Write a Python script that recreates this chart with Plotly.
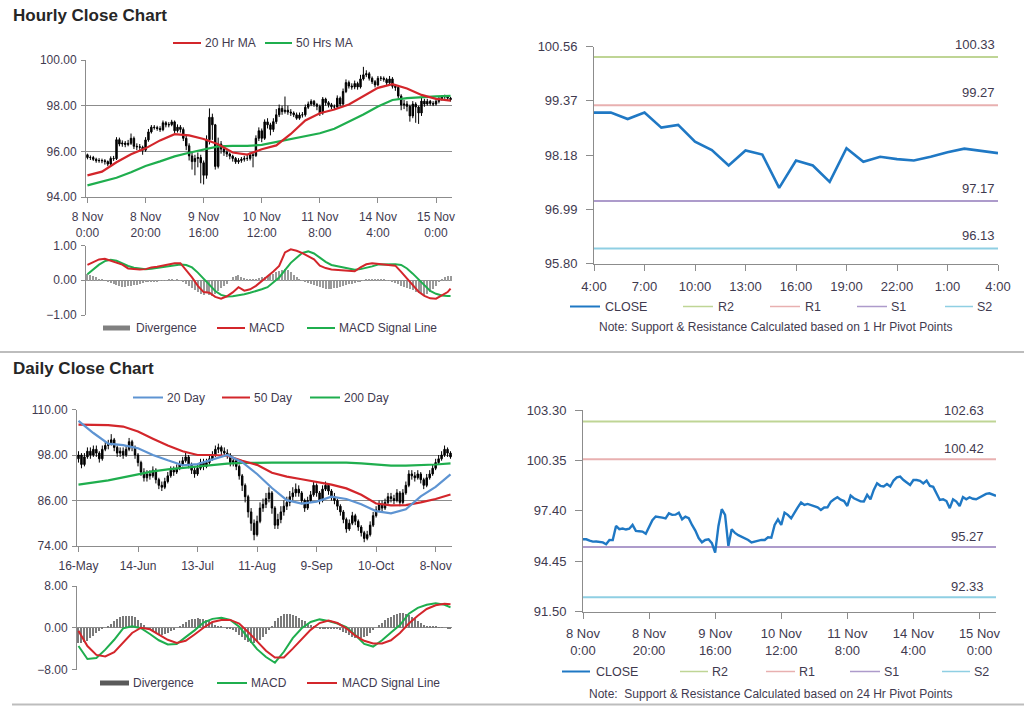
import plotly.graph_objects as go

# ------------------------------------------------------------------ data
hourly_tick_labels = ["8 Nov<br>0:00", "8 Nov<br>20:00", "9 Nov<br>16:00", "10 Nov<br>12:00",
                      "11 Nov<br>8:00", "14 Nov<br>4:00", "15 Nov<br>0:00"]
daily_tick_labels = ["16-May", "14-Jun", "13-Jul", "11-Aug", "9-Sep", "10-Oct", "8-Nov"]
pivot_hour_labels = ["4:00", "5:00", "6:00", "7:00", "8:00", "9:00", "10:00", "11:00", "12:00",
                     "13:00", "14:00", "15:00", "16:00", "17:00", "18:00", "19:00", "20:00",
                     "21:00", "22:00", "23:00", "0:00", "1:00", "2:00", "3:00", "4:00"]

hourly_open = [95.85, 95.73, 95.73, 95.65, 95.59, 95.60, 95.59, 95.55, 95.44, 95.69,
               95.68, 96.51, 96.32, 96.36, 96.30, 96.35, 96.57, 96.22, 96.20, 96.18,
               96.05, 96.50, 96.85, 97.06, 97.04, 97.00, 96.95, 97.25, 97.16, 97.17,
               97.29, 96.90, 97.06, 96.96, 96.57, 96.24, 95.80, 95.55, 95.69, 95.73,
               95.50, 94.95, 96.51, 97.49, 97.16, 95.34, 96.32, 96.10, 95.97, 95.88,
               95.79, 95.69, 95.54, 95.60, 95.65, 95.69, 95.69, 95.85, 95.82, 96.57,
               96.90, 96.57, 97.29, 97.16, 96.96, 97.30, 97.60, 97.88, 97.74, 97.80,
               97.72, 97.68, 97.60, 97.45, 97.59, 97.60, 97.93, 98.07, 98.19, 98.05,
               97.97, 97.68, 98.29, 98.13, 98.04, 97.95, 97.94, 98.33, 98.07, 98.62,
               99.01, 98.86, 98.82, 98.97, 98.82, 99.17, 99.35, 99.40, 99.20, 99.05,
               98.91, 99.20, 99.20, 99.15, 99.00, 99.17, 98.85, 98.80, 98.42, 98.03,
               98.07, 97.97, 97.55, 98.07, 97.94, 97.68, 98.20, 98.07, 98.19, 98.10,
               98.07, 98.19, 98.30, 98.39, 98.42, 98.33]
hourly_high = [95.90, 95.82, 95.80, 95.72, 95.70, 95.68, 95.66, 95.60, 95.78, 95.80,
               96.62, 96.60, 96.48, 96.45, 96.50, 96.78, 96.65, 96.35, 96.32, 96.25,
               96.62, 96.98, 97.15, 97.15, 97.12, 97.10, 97.35, 97.32, 97.28, 97.38,
               97.35, 97.18, 97.15, 97.05, 96.70, 96.35, 95.95, 95.85, 95.95, 95.85,
               95.60, 96.70, 97.88, 97.65, 97.20, 96.60, 96.45, 96.20, 96.05, 95.95,
               95.85, 95.75, 95.70, 95.75, 95.80, 95.85, 95.95, 95.95, 96.70, 97.05,
               97.00, 97.40, 97.45, 97.25, 97.45, 97.85, 98.05, 98.00, 98.40, 98.00,
               97.85, 97.75, 97.70, 97.70, 97.72, 98.05, 98.18, 98.28, 98.25, 98.12,
               98.05, 98.38, 98.35, 98.20, 98.12, 98.05, 98.45, 98.40, 98.75, 99.15,
               99.10, 98.98, 99.10, 99.05, 99.35, 99.70, 99.55, 99.48, 99.28, 99.12,
               99.30, 99.30, 99.28, 99.22, 99.30, 99.25, 98.95, 98.90, 98.50, 98.25,
               98.20, 98.05, 98.20, 98.15, 98.00, 98.35, 98.30, 98.30, 98.25, 98.20,
               98.28, 98.38, 98.45, 98.48, 98.45, 98.38]
hourly_low = [95.65, 95.62, 95.58, 95.50, 95.50, 95.48, 95.42, 95.35, 95.40, 95.58,
              95.62, 96.22, 96.20, 96.18, 96.22, 96.28, 96.10, 96.05, 96.00, 95.85,
              95.98, 96.42, 96.78, 96.95, 96.90, 96.85, 96.88, 97.05, 97.05, 97.10,
              96.80, 96.82, 96.82, 96.45, 96.05, 95.60, 95.20, 94.95, 95.30, 94.60,
              94.55, 94.80, 96.30, 96.50, 95.20, 95.25, 95.90, 95.80, 95.75, 95.65,
              95.55, 95.45, 95.45, 95.50, 95.55, 95.58, 95.60, 95.30, 95.75, 96.45,
              96.40, 96.50, 97.00, 96.70, 96.85, 97.20, 97.50, 97.60, 97.65, 97.60,
              97.55, 97.50, 97.38, 97.38, 97.48, 97.52, 97.85, 97.98, 97.95, 97.80,
              97.55, 97.60, 98.00, 97.92, 97.85, 97.82, 97.88, 97.95, 98.00, 98.55,
              98.75, 98.70, 98.72, 98.70, 98.75, 99.10, 99.25, 99.10, 98.95, 98.80,
              98.85, 99.08, 99.05, 98.90, 98.92, 98.75, 98.65, 98.30, 97.80, 97.85,
              97.75, 97.30, 97.45, 97.25, 97.20, 97.55, 97.95, 98.00, 98.00, 97.98,
              98.00, 98.10, 98.22, 98.30, 98.25, 98.18]
hourly_close = [95.73, 95.73, 95.65, 95.59, 95.60, 95.59, 95.55, 95.44, 95.69, 95.68,
                96.51, 96.32, 96.36, 96.30, 96.35, 96.57, 96.22, 96.20, 96.18, 96.05,
                96.50, 96.85, 97.06, 97.04, 97.00, 96.95, 97.25, 97.16, 97.17, 97.29,
                96.90, 97.06, 96.96, 96.57, 96.24, 95.80, 95.55, 95.69, 95.73, 95.50,
                94.95, 96.51, 97.49, 97.16, 95.34, 96.32, 96.10, 95.97, 95.88, 95.79,
                95.69, 95.54, 95.60, 95.65, 95.69, 95.69, 95.85, 95.82, 96.57, 96.90,
                96.57, 97.29, 97.16, 96.96, 97.30, 97.60, 97.88, 97.74, 97.80, 97.72,
                97.68, 97.60, 97.45, 97.59, 97.60, 97.93, 98.07, 98.19, 98.05, 97.97,
                97.68, 98.29, 98.13, 98.04, 97.95, 97.94, 98.33, 98.07, 98.62, 99.01,
                98.86, 98.82, 98.97, 98.82, 99.17, 99.35, 99.40, 99.20, 99.05, 98.91,
                99.20, 99.20, 99.15, 99.00, 99.17, 98.85, 98.80, 98.42, 98.03, 98.07,
                97.97, 97.55, 98.07, 97.94, 97.68, 98.20, 98.07, 98.19, 98.10, 98.07,
                98.19, 98.30, 98.39, 98.42, 98.33, 98.27]

# moving averages, read every 5 hours
hourly_ma_idx = [0, 5, 10, 15, 20, 25, 30, 35, 40, 45, 50, 55, 60, 65, 70, 75, 80, 85, 90,
                 95, 100, 105, 110, 115, 120, 125]
hourly_ma20 = [94.95, 95.11, 95.52, 95.87, 96.13, 96.48, 96.75, 96.70, 96.54, 96.31, 95.95,
               95.86, 96.09, 96.26, 96.76, 97.35, 97.67, 97.83, 98.05, 98.42, 98.78, 98.94,
               98.75, 98.47, 98.30, 98.22]
hourly_ma50 = [94.51, 94.66, 94.84, 95.08, 95.36, 95.56, 95.78, 95.94, 96.07, 96.22, 96.24,
               96.24, 96.28, 96.41, 96.56, 96.67, 96.79, 96.99, 97.29, 97.61, 97.96, 98.25,
               98.33, 98.38, 98.41, 98.43]

# hourly MACD, read every 2 hours
hourly_macd_idx = [0, 2, 4, 6, 8, 10, 12, 14, 16, 18, 20, 22, 24, 26, 28, 30, 32, 34, 36, 38,
                   40, 42, 44, 46, 48, 50, 52, 54, 56, 58, 60, 62, 64, 66, 68, 70, 72, 74, 76,
                   78, 80, 82, 84, 86, 88, 90, 92, 94, 96, 98, 100, 102, 104, 106, 108, 110,
                   112, 114, 116, 118, 120, 122, 124, 125]
hourly_macd = [0.44, 0.53, 0.60, 0.62, 0.57, 0.52, 0.45, 0.34, 0.32, 0.31, 0.32, 0.37, 0.39,
               0.42, 0.45, 0.49, 0.49, 0.30, 0.08, -0.16, -0.34, -0.36, -0.48, -0.53, -0.46,
               -0.35, -0.20, -0.30, -0.26, -0.16, -0.03, 0.11, 0.25, 0.41, 0.80, 0.89, 0.85,
               0.78, 0.70, 0.60, 0.42, 0.35, 0.31, 0.30, 0.30, 0.28, 0.26, 0.37, 0.46, 0.49,
               0.47, 0.44, 0.42, 0.42, 0.24, 0.04, -0.15, -0.33, -0.45, -0.52, -0.53, -0.43,
               -0.34, -0.24]
hourly_signal = [0.17, 0.31, 0.45, 0.55, 0.59, 0.56, 0.48, 0.41, 0.36, 0.34, 0.32, 0.33, 0.35,
                 0.38, 0.40, 0.42, 0.45, 0.44, 0.37, 0.22, 0.05, -0.15, -0.31, -0.42, -0.47,
                 -0.46, -0.44, -0.40, -0.36, -0.32, -0.26, -0.20, -0.07, 0.08, 0.29, 0.50,
                 0.65, 0.79, 0.83, 0.77, 0.65, 0.53, 0.44, 0.40, 0.37, 0.33, 0.30, 0.32, 0.35,
                 0.40, 0.45, 0.46, 0.46, 0.46, 0.44, 0.34, 0.19, 0.02, -0.16, -0.31, -0.39,
                 -0.44, -0.45, -0.45]
hourly_div = [0.20, 0.18, 0.15, 0.12,
              0.06, 0.03, 0.00, -0.03, -0.06,
              -0.10, -0.13, -0.16, -0.17, -0.18, -0.16, -0.15, -0.13,
              -0.11, -0.09, -0.07, -0.05, -0.04, -0.03,
              -0.02, -0.01, 0.01, 0.02, 0.02, 0.03, 0.03, 0.02, 0.03, 0.02, -0.02,
              -0.08, -0.15, -0.22, -0.28,
              -0.32, -0.38, -0.42, -0.35, -0.40, -0.44, -0.38, -0.30, -0.22,
              -0.15, -0.08, 0.02,
              0.10, 0.14, 0.16, 0.12, 0.08, 0.05,
              0.03, 0.05, 0.06, 0.08, 0.10, 0.12, 0.14,
              0.17, 0.20, 0.24, 0.27, 0.32, 0.35, 0.30, 0.26, 0.18, 0.12,
              0.06, 0.02, -0.03, -0.07, -0.10, -0.13, -0.16,
              -0.19, -0.22, -0.24, -0.25, -0.24, -0.22, -0.20, -0.18, -0.15, -0.12, -0.10,
              -0.08, -0.06, -0.04, -0.02, 0.02, 0.04, 0.05,
              0.06, 0.06, 0.05, 0.04, 0.03, 0.02, 0.01, -0.02, -0.06,
              -0.10, -0.14, -0.18, -0.22, -0.25,
              -0.28, -0.32, -0.35, -0.38, -0.40, -0.38, -0.33, -0.25, -0.15, -0.05,
              0.05, 0.10, 0.14, 0.15]

# 1 Hr pivot chart
pivot1_close = [99.11, 99.11, 98.97, 99.11, 98.78, 98.84, 98.47, 98.29, 97.95, 98.28, 98.19,
                97.46, 98.06, 97.95, 97.59, 98.33, 98.03, 98.14, 98.09, 98.06, 98.14, 98.24,
                98.32, 98.27, 98.22]
pivot1_levels = {"R2": 100.33, "R1": 99.27, "S1": 97.17, "S2": 96.13}
pivot1_ticks = [95.80, 96.99, 98.18, 99.37, 100.56]

# 24 Hr pivot chart
pivot24_levels = {"R2": 102.63, "R1": 100.42, "S1": 95.27, "S2": 92.33}
pivot24_ticks = [91.50, 94.45, 97.40, 100.35, 103.30]

# daily candles
daily_open = [97.0, 98.0, 95.5, 97.5, 99.0, 98.0, 99.5, 98.5, 97.0, 99.5,
              100.5, 101.0, 102.0, 100.0, 98.5, 99.0, 98.0, 99.5, 101.5, 100.0,
              98.0, 96.0, 93.5, 92.0, 93.0, 92.5, 94.0, 91.5, 90.0, 89.5,
              91.0, 92.5, 94.0, 93.5, 94.5, 95.5, 96.5, 97.5, 95.5, 94.0,
              93.0, 94.5, 96.0, 95.0, 96.0, 97.0, 98.0, 99.5, 100.0, 99.0,
              98.5, 98.0, 96.0, 96.5, 95.0, 92.5, 90.0, 87.0, 83.0, 80.0,
              77.0, 80.5, 84.0, 85.0, 86.5, 88.0, 84.0, 79.5, 81.0, 83.0,
              84.5, 85.5, 87.0, 88.0, 89.0, 88.0, 86.0, 84.0, 86.0, 87.5,
              90.0, 88.0, 86.0, 89.0, 90.0, 88.5, 87.0, 86.0, 84.5, 83.0,
              81.0, 78.5, 80.0, 82.0, 80.5, 79.0, 77.5, 76.0, 77.0, 79.5,
              82.0, 83.5, 85.0, 84.0, 85.5, 87.0, 86.5, 86.0, 88.0, 85.5,
              88.0, 90.0, 93.0, 92.5, 92.0, 93.0, 91.5, 90.0, 92.0, 93.0,
              94.5, 96.0, 97.0, 98.0, 99.5, 98.5]
daily_high = [99.0, 98.5, 98.5, 100.0, 100.0, 100.5, 100.5, 99.0, 100.5, 101.5,
              102.0, 103.5, 102.5, 100.5, 100.0, 100.0, 100.5, 102.5, 102.0, 100.5,
              98.5, 96.5, 94.5, 94.0, 94.0, 95.0, 94.5, 92.0, 91.0, 92.0,
              93.5, 95.0, 95.0, 95.5, 96.5, 97.5, 99.0, 98.0, 96.0, 95.0,
              95.5, 97.0, 97.0, 97.0, 98.0, 99.0, 100.5, 101.0, 100.5, 100.0,
              99.5, 98.5, 97.5, 97.0, 95.5, 93.0, 90.5, 87.5, 84.0, 81.0,
              82.0, 85.5, 86.5, 88.0, 89.5, 88.5, 84.5, 82.5, 84.5, 86.0,
              87.0, 88.5, 89.5, 90.5, 90.0, 88.5, 86.5, 87.0, 88.5, 91.0,
              90.5, 88.5, 90.0, 91.0, 90.5, 89.0, 88.0, 86.5, 85.0, 83.5,
              81.5, 81.0, 83.0, 82.5, 81.0, 79.5, 78.0, 78.0, 80.5, 83.0,
              84.5, 86.0, 86.0, 86.5, 88.0, 88.0, 87.5, 89.0, 88.5, 89.0,
              91.0, 94.0, 94.0, 93.5, 94.0, 93.5, 92.0, 93.0, 94.0, 95.5,
              97.0, 98.0, 99.0, 100.5, 100.0, 99.0]
daily_low = [96.0, 94.5, 95.0, 97.0, 97.0, 97.5, 97.5, 96.0, 96.5, 99.0,
             99.5, 100.5, 99.0, 97.5, 97.5, 97.0, 97.5, 99.0, 99.0, 97.0,
             95.0, 92.5, 91.0, 91.0, 91.5, 92.0, 90.5, 89.0, 88.5, 89.0,
             90.5, 92.0, 92.5, 93.0, 94.0, 95.0, 96.0, 94.5, 93.0, 92.0,
             92.5, 94.0, 94.0, 94.5, 95.5, 96.5, 97.5, 98.5, 98.0, 97.5,
             97.0, 95.0, 95.0, 94.0, 91.5, 88.5, 85.5, 81.5, 78.0, 75.5,
             76.5, 80.0, 83.0, 84.0, 85.5, 82.5, 78.5, 78.5, 80.0, 82.0,
             83.5, 84.5, 86.0, 87.0, 87.0, 85.0, 83.0, 83.5, 85.5, 87.0,
             87.0, 85.0, 85.5, 88.5, 87.5, 86.0, 85.0, 83.5, 82.0, 80.0,
             77.5, 78.0, 79.5, 79.5, 78.0, 76.5, 75.0, 75.5, 76.5, 79.0,
             81.5, 83.0, 83.0, 83.5, 85.0, 85.5, 85.0, 85.5, 84.5, 85.0,
             87.5, 89.5, 91.5, 91.0, 91.5, 90.5, 89.0, 89.5, 91.5, 92.5,
             94.0, 95.5, 96.5, 97.5, 97.5, 97.0]
daily_close = [98.0, 95.5, 97.5, 99.0, 98.0, 99.5, 98.5, 97.0, 99.5, 100.5,
               101.0, 102.0, 100.0, 98.5, 99.0, 98.0, 99.5, 101.5, 100.0, 98.0,
               96.0, 93.5, 92.0, 93.0, 92.5, 94.0, 91.5, 90.0, 89.5, 91.0,
               92.5, 94.0, 93.5, 94.5, 95.5, 96.5, 97.5, 95.5, 94.0, 93.0,
               94.5, 96.0, 95.0, 96.0, 97.0, 98.0, 99.5, 100.0, 99.0, 98.5,
               98.0, 96.0, 96.5, 95.0, 92.5, 90.0, 87.0, 83.0, 80.0, 77.0,
               80.5, 84.0, 85.0, 86.5, 88.0, 84.0, 79.5, 81.0, 83.0, 84.5,
               85.5, 87.0, 88.0, 89.0, 88.0, 86.0, 84.0, 86.0, 87.5, 90.0,
               88.0, 86.0, 89.0, 90.0, 88.5, 87.0, 86.0, 84.5, 83.0, 81.0,
               78.5, 80.0, 82.0, 80.5, 79.0, 77.5, 76.0, 77.0, 79.5, 82.0,
               83.5, 85.0, 84.0, 85.5, 87.0, 86.5, 86.0, 88.0, 85.5, 88.0,
               90.0, 93.0, 92.5, 92.0, 93.0, 91.5, 90.0, 92.0, 93.0, 94.5,
               96.0, 97.0, 98.0, 99.5, 98.5, 97.5]

# daily moving averages, read every 5 days
daily_ma_idx = [0, 5, 10, 15, 20, 25, 30, 35, 40, 45, 50, 55, 60, 65, 70, 75, 80, 85, 90, 95,
                100, 105, 110, 115, 120, 125]
daily_ma20 = [107.0, 103.8, 101.0, 100.6, 99.8, 98.0, 96.6, 95.3, 95.6, 96.9, 98.0, 96.1, 93.0,
              89.3, 86.1, 85.2, 85.7, 87.0, 86.4, 85.0, 83.2, 82.6, 83.7, 87.1, 89.6, 92.9]
daily_ma50 = [106.0, 105.9, 105.9, 105.5, 104.2, 102.3, 100.5, 99.0, 98.0, 98.0, 97.8, 96.5,
              95.4, 93.3, 92.3, 91.6, 90.9, 90.2, 89.2, 87.5, 85.2, 84.7, 84.8, 85.5, 86.4, 87.6]
daily_ma200 = [90.2, 90.7, 91.3, 92.1, 92.9, 93.7, 94.2, 94.6, 95.0, 95.4, 95.7, 95.9, 96.0,
               96.0, 96.0, 96.0, 96.0, 96.0, 96.0, 95.8, 95.5, 95.2, 95.2, 95.3, 95.5, 95.8]

# daily MACD, read every 3 days
daily_macd_idx = [0, 3, 6, 9, 12, 15, 18, 21, 24, 27, 30, 33, 36, 39, 42, 45, 48, 51, 54, 57,
                  60, 63, 66, 69, 72, 75, 78, 81, 84, 87, 90, 93, 96, 99, 102, 105, 108, 111,
                  114, 117, 120, 123, 125]
daily_macd = [-3.5, -6.0, -5.8, -4.2, -2.3, -0.1, 0.3, -0.1, -1.2, -2.4, -3.2, -3.1, -1.8,
              -0.5, 1.0, 1.7, 1.9, 1.5, 0.2, -2.0, -4.1, -5.6, -6.7, -4.6, -2.0, -0.1, 1.1,
              1.6, 1.3, 0.8, 0.1, -1.4, -3.1, -3.6, -2.4, -0.9, 0.5, 2.7, 3.8, 4.4, 4.7, 4.4,
              3.9]
daily_signal = [-0.6, -3.5, -5.2, -5.5, -4.7, -2.8, -1.0, 0.0, -0.3, -1.3, -2.3, -2.9, -2.5,
                -1.3, 0.0, 1.1, 1.5, 1.5, 0.8, -0.8, -2.7, -4.4, -5.7, -5.7, -4.0, -2.2, -0.4,
                0.9, 1.4, 0.9, -0.1, -1.5, -2.5, -3.0, -3.0, -2.4, -1.0, 0.8, 2.3, 3.6, 4.3,
                4.6, 4.5]
daily_div = [-2.9, -3.0, -2.8, -2.5, -2.0, -1.5,
             -1.0, -0.6, -0.3, 0.0, 0.3,
             0.7, 1.2, 1.6, 2.0,
             2.2, 2.3, 2.3, 2.2, 2.0,
             1.5, 1.0, 0.5, 0.0,
             -0.4, -0.7, -1.0, -1.2, -1.3, -1.2, -1.0, -0.7, -0.4,
             0.0, 0.4, 0.8, 1.1,
             1.4, 1.6, 1.7, 1.8, 1.7, 1.6, 1.4, 1.2,
             0.9, 0.6, 0.4, 0.2, 0.0, -0.1, -0.2, -0.4,
             -0.8, -1.3, -1.8, -2.3, -2.7, -3.0,
             -3.0, -2.7, -2.3, -1.8, -1.2,
             -0.5, 0.3, 1.2, 1.8,
             2.3, 2.6, 2.7, 2.6, 2.5, 2.2, 1.9,
             1.5, 1.2, 0.9, 0.6, 0.3,
             0.1, -0.1, -0.2, -0.3, -0.3, -0.3, -0.2, -0.3, -0.5,
             -0.8, -1.1, -1.4, -1.7, -1.9, -2.0, -2.0, -1.8, -1.5,
             -1.0, -0.5, 0.0, 0.5, 1.0,
             1.4, 1.8, 2.1, 2.4, 2.6, 2.8, 2.8, 2.7,
             2.4, 2.1, 1.7, 1.3, 0.9, 0.6,
             0.4, 0.3, 0.2, 0.2, 0.1, 0.1, 0.0, -0.1, -0.2]

# ------------------------------------------------------------------ style
FONT = "Liberation Sans, Arial, sans-serif"
TXT = "#3f3a4f"
AX = "#8c8c8c"
RED = "#d3262b"
GREEN = "#1fae4e"
BLUE = "#1f78c4"
BLUE20 = "#5e94d2"
PIV_COL = {"R2": "#bfd595", "R1": "#e8b0b0", "S1": "#ad9bcb", "S2": "#8fcfe3"}
W, H = 1024, 706


def fx(p):
    return p / W


def fy(p):
    return 1 - p / H


hourly_idx = list(range(len(hourly_close)))
daily_idx = list(range(len(daily_close)))
pivot1_idx = list(range(len(pivot1_close)))
major_every = 20
hourly_tickvals = list(range(0, len(hourly_close), major_every))
daily_tickvals = list(range(0, len(daily_close), major_every))
pivot1_tickvals = list(range(0, len(pivot1_close), 3))

fig = go.Figure()
candle_style = dict(line=dict(color="black", width=1), fillcolor="black")

# A: hourly candles
fig.add_trace(go.Candlestick(x=hourly_idx, open=hourly_open, high=hourly_high, low=hourly_low,
                             close=hourly_close, increasing=candle_style, decreasing=candle_style,
                             whiskerwidth=0, xaxis="x", yaxis="y", hoverinfo="skip"))
fig.add_trace(go.Scatter(x=hourly_ma_idx, y=hourly_ma50, mode="lines", line=dict(color=GREEN, width=2.2),
                         xaxis="x", yaxis="y"))
fig.add_trace(go.Scatter(x=hourly_ma_idx, y=hourly_ma20, mode="lines", line=dict(color=RED, width=2.2),
                         xaxis="x", yaxis="y"))
# B: hourly MACD
fig.add_trace(go.Bar(x=hourly_idx, y=hourly_div, marker=dict(color="#9a9a9a", line=dict(width=0)),
                     width=0.35, xaxis="x2", yaxis="y2"))
fig.add_trace(go.Scatter(x=hourly_macd_idx, y=hourly_signal, mode="lines", line=dict(color=GREEN, width=2),
                         xaxis="x2", yaxis="y2"))
fig.add_trace(go.Scatter(x=hourly_macd_idx, y=hourly_macd, mode="lines", line=dict(color=RED, width=2),
                         xaxis="x2", yaxis="y2"))
# C: 1 hr pivots
for name, val in pivot1_levels.items():
    fig.add_trace(go.Scatter(x=[pivot1_idx[0], pivot1_idx[-1]], y=[val, val], mode="lines",
                             line=dict(color=PIV_COL[name], width=2), xaxis="x3", yaxis="y3"))
fig.add_trace(go.Scatter(x=pivot1_idx, y=pivot1_close, mode="lines", line=dict(color=BLUE, width=2.6),
                         xaxis="x3", yaxis="y3"))
# D: daily candles
fig.add_trace(go.Candlestick(x=daily_idx, open=daily_open, high=daily_high, low=daily_low,
                             close=daily_close, increasing=candle_style, decreasing=candle_style,
                             whiskerwidth=0, xaxis="x4", yaxis="y4", hoverinfo="skip"))
fig.add_trace(go.Scatter(x=daily_ma_idx, y=daily_ma200, mode="lines", line=dict(color=GREEN, width=2.2),
                         xaxis="x4", yaxis="y4"))
fig.add_trace(go.Scatter(x=daily_ma_idx, y=daily_ma50, mode="lines", line=dict(color=RED, width=2.2),
                         xaxis="x4", yaxis="y4"))
fig.add_trace(go.Scatter(x=daily_ma_idx, y=daily_ma20, mode="lines", line=dict(color=BLUE20, width=2.2),
                         xaxis="x4", yaxis="y4"))
# E: daily MACD
fig.add_trace(go.Bar(x=daily_idx, y=daily_div, marker=dict(color="#7a7a7a", line=dict(width=0)),
                     width=0.35, xaxis="x5", yaxis="y5"))
fig.add_trace(go.Scatter(x=daily_macd_idx, y=daily_macd, mode="lines", line=dict(color=GREEN, width=2),
                         xaxis="x5", yaxis="y5"))
fig.add_trace(go.Scatter(x=daily_macd_idx, y=daily_signal, mode="lines", line=dict(color=RED, width=2),
                         xaxis="x5", yaxis="y5"))
# F: 24 hr pivots
for name, val in pivot24_levels.items():
    fig.add_trace(go.Scatter(x=[hourly_idx[0], hourly_idx[-1]], y=[val, val], mode="lines",
                             line=dict(color=PIV_COL[name], width=2), xaxis="x6", yaxis="y6"))
fig.add_trace(go.Scatter(x=hourly_idx, y=hourly_close, mode="lines", line=dict(color=BLUE, width=2.4),
                         xaxis="x6", yaxis="y6"))


def tf(size):
    return dict(family=FONT, size=size, color=TXT)


def xax(dom, rng, tickvals=None, ticktext=None, anchor="y", show=True, size=12, ticklen=5, standoff=3):
    return dict(domain=dom, range=rng, tickvals=tickvals, ticktext=ticktext, anchor=anchor,
                showline=show, linecolor=AX, linewidth=1, ticks="outside" if show else "",
                ticklen=ticklen, tickcolor=AX, showgrid=False, zeroline=False, tickfont=tf(size),
                showticklabels=show, fixedrange=True, rangeslider=dict(visible=False),
                ticklabelstandoff=standoff, automargin=False)


def yax(dom, rng, tickvals, anchor, grid=True, size=12, ticklen=4, standoff=2):
    return dict(domain=dom, range=rng, tickvals=tickvals, tickformat=".2f", anchor=anchor,
                showline=True, linecolor=AX, linewidth=1, ticks="outside", ticklen=ticklen, tickcolor=AX,
                showgrid=grid, gridcolor=AX, gridwidth=1, zeroline=False, tickfont=tf(size),
                fixedrange=True, automargin=False, ticklabelstandoff=standoff)


fig.update_layout(
    width=W, height=H, margin=dict(l=0, r=0, t=0, b=0, autoexpand=False), showlegend=False,
    paper_bgcolor="white", plot_bgcolor="white", bargap=0,
    xaxis=xax([fx(86), fx(452)], [-0.5, 125.5], hourly_tickvals, hourly_tick_labels, "y", standoff=4),
    yaxis=yax([fy(197), fy(60)], [94, 100], [94, 96, 98, 100], "x"),
    xaxis2=xax([fx(86), fx(452)], [-0.5, 125.5], anchor="y2", show=False),
    yaxis2=yax([fy(315), fy(245.5)], [-1, 1], [-1, 0, 1], "x2"),
    xaxis3=xax([fx(594), fx(998)], [0, 24], pivot1_tickvals,
               [pivot_hour_labels[i] for i in pivot1_tickvals], "y3", size=13, ticklen=6, standoff=5),
    yaxis3=yax([fy(263.5), fy(46.5)], [95.80, 100.56], pivot1_ticks, "x3", grid=False, size=13,
               ticklen=7, standoff=6),
    xaxis4=xax([fx(77), fx(452)], [-0.5, 125.5], daily_tickvals, daily_tick_labels, "y4", standoff=4),
    yaxis4=yax([fy(546), fy(409.5)], [74, 110], [74, 86, 98, 110], "x4"),
    xaxis5=xax([fx(77), fx(452)], [-0.5, 125.5], anchor="y5", show=False),
    yaxis5=yax([fy(669.5), fy(586)], [-8, 8], [-8, 0, 8], "x5"),
    xaxis6=xax([fx(583), fx(996)], [0, 125], hourly_tickvals, hourly_tick_labels, "y6", size=13,
               ticklen=6, standoff=4),
    yaxis6=yax([fy(611.5), fy(410)], [91.50, 103.30], pivot24_ticks, "x6", grid=False, size=13,
               ticklen=7, standoff=6),
)

annotations = []
shapes = []


def text(px, py, s, size=12, anchor="left", color=TXT, bold=False):
    annotations.append(dict(xref="paper", yref="paper", x=fx(px), y=fy(py), xanchor=anchor,
                            yanchor="middle", showarrow=False, text=("<b>%s</b>" % s) if bold else s,
                            font=dict(family=FONT, size=size, color=color)))


def leg_line(x0, x1, py, color, width=2):
    shapes.append(dict(type="line", xref="paper", yref="paper", x0=fx(x0), x1=fx(x1), y0=fy(py), y1=fy(py),
                       line=dict(color=color, width=width)))


def leg_rect(x0, x1, py, color):
    shapes.append(dict(type="rect", xref="paper", yref="paper", x0=fx(x0), x1=fx(x1), y0=fy(py - 2.5),
                       y1=fy(py + 2.5), line=dict(width=0), fillcolor=color))


# titles
text(11, 16, "Hourly Close Chart", size=17, color="#262626", bold=True)
text(11, 369, "Daily Close Chart", size=17, color="#262626", bold=True)

# legend A
leg_line(173, 201, 43, RED); text(203, 43, "20 Hr MA")
leg_line(265, 292, 43, GREEN); text(294, 43, "50 Hrs MA")
# legend B
leg_rect(103, 130, 328, "#808080"); text(134, 328, "Divergence")
leg_line(217, 245, 328, RED); text(247, 328, "MACD")
leg_line(307, 335, 328, GREEN); text(337, 328, "MACD Signal Line")
# legend C
leg_line(570, 600, 306.5, BLUE); text(603, 306.5, "CLOSE", size=12.5)
leg_line(683, 713, 306.5, PIV_COL["R2"], 1.5); text(716, 306.5, "R2", size=12.5)
leg_line(770, 800, 306.5, PIV_COL["R1"], 1.5); text(803, 306.5, "R1", size=12.5)
leg_line(857, 887, 306.5, PIV_COL["S1"], 1.5); text(889, 306.5, "S1", size=12.5)
leg_line(945, 973, 306.5, PIV_COL["S2"], 1.5); text(975, 306.5, "S2", size=12.5)
text(776, 326.5, "Note: Support &amp; Resistance Calculated based on 1 Hr Pivot Points", size=12,
     anchor="center")
# legend D
leg_line(133, 163, 397.5, BLUE20); text(165, 397.5, "20 Day")
leg_line(222, 250, 397.5, RED); text(252, 397.5, "50 Day")
leg_line(310, 340, 397.5, GREEN); text(342, 397.5, "200 Day")
# legend E
leg_rect(100, 129, 683, "#5a5a5a"); text(131, 683, "Divergence")
leg_line(217, 247, 683, GREEN); text(249, 683, "MACD")
leg_line(307, 337, 683, RED); text(340, 683, "MACD Signal Line")
# legend F
leg_line(562, 590, 671.5, BLUE); text(594, 671.5, "CLOSE", size=12.5)
leg_line(680, 708, 671.5, PIV_COL["R2"], 1.5); text(710, 671.5, "R2", size=12.5)
leg_line(766, 795, 671.5, PIV_COL["R1"], 1.5); text(797, 671.5, "R1", size=12.5)
leg_line(850, 880, 671.5, PIV_COL["S1"], 1.5); text(882, 671.5, "S1", size=12.5)
leg_line(942, 970, 671.5, PIV_COL["S2"], 1.5); text(972, 671.5, "S2", size=12.5)
text(771, 694, "Note:&nbsp; Support &amp; Resistance Calculated based on 24 Hr Pivot Points", size=12,
     anchor="center")

# level value labels
for name, val in pivot1_levels.items():
    annotations.append(dict(xref="paper", yref="y3", x=fx(997), y=val, xanchor="right", yanchor="bottom",
                            yshift=3, showarrow=False, text="%.2f" % val,
                            font=dict(family=FONT, size=13, color=TXT)))
for name, val in pivot24_levels.items():
    annotations.append(dict(xref="paper", yref="y6", x=fx(986), y=val, xanchor="right", yanchor="bottom",
                            yshift=1, showarrow=False, text="%.2f" % val,
                            font=dict(family=FONT, size=13, color=TXT)))

# section separators
shapes.append(dict(type="line", xref="paper", yref="paper", x0=0, x1=1, y0=fy(352), y1=fy(352),
                   line=dict(color="#bdbdbd", width=2)))
shapes.append(dict(type="line", xref="paper", yref="paper", x0=fx(12), x1=1, y0=fy(704.5), y1=fy(704.5),
                   line=dict(color="#bdbdbd", width=2)))

fig.update_layout(annotations=annotations, shapes=shapes)

fig.write_html("out.html", config={"displayModeBar": False},
               post_script="document.body.style.margin='0';document.body.style.overflow='hidden';")
